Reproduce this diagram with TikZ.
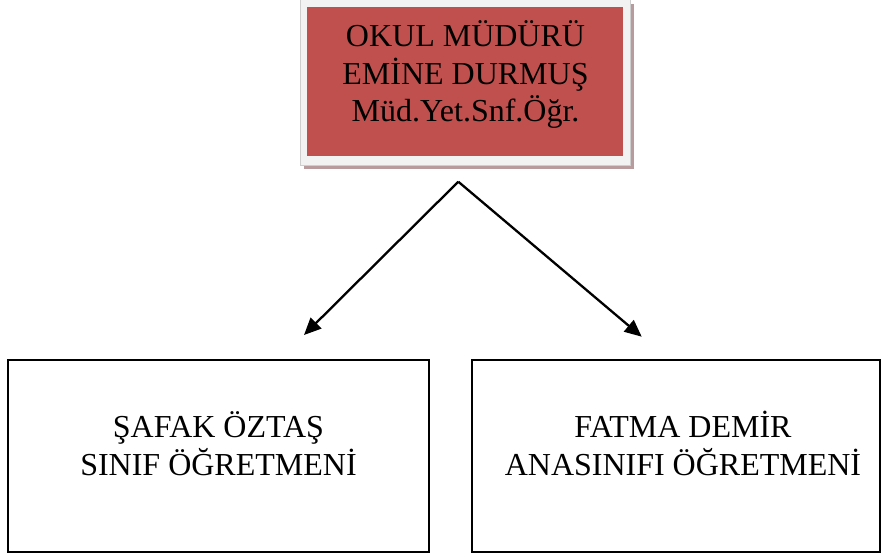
\documentclass[tikz,border=0pt]{standalone}
\usepackage{fontspec}
\setmainfont{Liberation Serif}
\usetikzlibrary{arrows.meta}
\definecolor{boxred}{HTML}{C0504D}
\definecolor{framegray}{HTML}{F2F2F2}
\definecolor{shadowmauve}{HTML}{B79B9D}
\tikzset{
  txt/.style={font=\fontsize{32}{37.5}\selectfont, align=center, inner sep=0pt, anchor=base},
  staffbox/.style={draw=black, line width=2pt, minimum width=421pt, minimum height=191.5pt, inner sep=0pt},
  conn/.style={line width=2.3pt, -{Triangle[length=17pt,width=15pt]}},
}
\begin{document}
\begin{tikzpicture}[x=1pt,y=-1pt]
\useasboundingbox (0,0) rectangle (882,553);
% shadow, frame and red box of the head
\fill[shadowmauve] (303.5,4) rectangle (633.5,169);
\node[fill=framegray, draw=framegray!85!black, line width=0.4pt, minimum width=330pt, minimum height=170pt, inner sep=0pt] (headframe) at (465,80) {};
\node[fill=boxred, minimum width=315.5pt, minimum height=148.5pt, inner sep=0pt] (head) at (465,81.75) {};
\node[txt] (headtext) at (465.5,122) {OKUL MÜDÜRÜ\\EMİNE DURMUŞ\\Müd.Yet.Snf.Öğr.};
% staff boxes
\node[staffbox] (left) at (218.8,456.1) {};
\node[staffbox, minimum width=408pt] (right) at (676.2,456.1) {};
\node[txt] (lefttext) at (218.5,475) {ŞAFAK ÖZTAŞ\\SINIF ÖĞRETMENİ};
\node[txt] (righttext) at (683,475) {FATMA DEMİR\\ANASINIFI ÖĞRETMENİ};
% connectors
\coordinate (apex) at (458.3,181.7);
\coordinate (lefttip) at (304,335);
\coordinate (righttip) at (641.7,336.7);
\draw[conn] (apex) -- (lefttip);
\draw[conn] (apex) -- (righttip);
\end{tikzpicture}
\end{document}
